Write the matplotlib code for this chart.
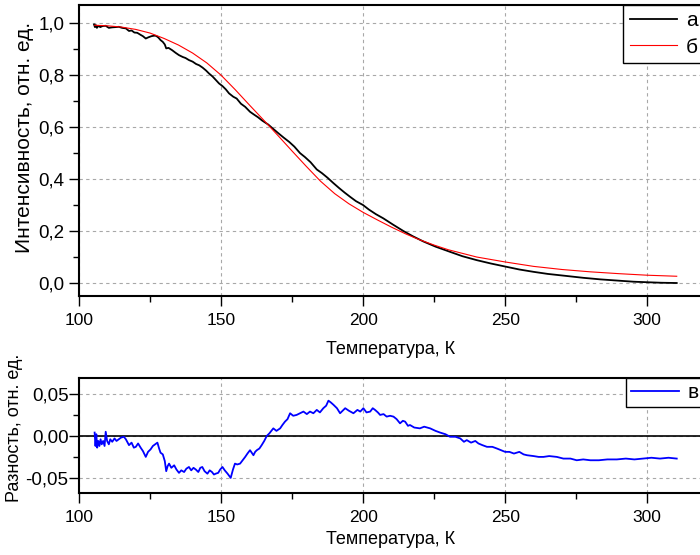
import matplotlib
matplotlib.use('Agg')
import matplotlib.pyplot as plt
from matplotlib.ticker import MultipleLocator, FuncFormatter

plt.rcParams['font.family'] = ['Liberation Sans', 'DejaVu Sans']

# experimental intensity (a)
t_exp = [105.3, 105.6, 105.9, 106.3, 106.8, 107.5, 108.3, 109.4, 110.5, 111.7,
         113.0, 114.0, 115.2, 116.5, 117.6, 118.5, 119.5, 120.5, 121.7, 122.5,
         123.5, 124.5, 125.5, 126.5, 127.2, 128.0, 128.7, 129.5, 130.2, 130.7,
         131.5, 132.8, 134.0, 135.2, 136.5, 137.5, 138.7, 140.0, 141.2, 142.3,
         143.5, 144.7, 145.8, 147.0, 148.2, 149.3, 150.5, 151.7, 152.8, 154.3,
         155.5, 157.0, 158.5, 160.2, 161.5, 163.0, 164.5, 166.6, 168.5, 170.0,
         172.0, 174.0, 175.8, 177.8, 179.5, 181.5, 183.7, 185.5, 187.5, 189.5,
         191.5, 193.5, 195.4, 197.5, 200.0, 202.0, 204.5, 207.1, 210.5, 214.2,
         217.5, 221.2, 225.5, 230.6, 235.0, 240.0, 245.0, 250.2, 255.0, 260.0,
         265.0, 271.7, 277.5, 283.5, 290.0, 295.2, 300.0, 305.0, 310.4]
i_exp = [0.995, 0.985, 0.993, 0.982, 0.990, 0.985, 0.989, 0.990, 0.982, 0.984,
         0.985, 0.986, 0.982, 0.980, 0.970, 0.972, 0.964, 0.963, 0.955, 0.950,
         0.941, 0.946, 0.950, 0.952, 0.951, 0.944, 0.935, 0.928, 0.918, 0.903,
         0.905, 0.896, 0.886, 0.877, 0.870, 0.866, 0.858, 0.852, 0.843, 0.838,
         0.829, 0.818, 0.806, 0.795, 0.781, 0.768, 0.758, 0.745, 0.730, 0.717,
         0.710, 0.690, 0.678, 0.659, 0.649, 0.638, 0.625, 0.610, 0.592, 0.578,
         0.560, 0.543, 0.525, 0.500, 0.485, 0.465, 0.437, 0.423, 0.405, 0.385,
         0.366, 0.348, 0.332, 0.315, 0.300, 0.283, 0.265, 0.249, 0.225, 0.200,
         0.180, 0.160, 0.140, 0.120, 0.103, 0.088, 0.075, 0.063, 0.052, 0.043,
         0.035, 0.027, 0.020, 0.014, 0.009, 0.005, 0.003, 0.001, 0.000]

# fit (б)
t_fit = [105.5, 110, 115, 120, 125, 130, 135, 140, 145, 150, 155, 160, 165, 170,
         175, 180, 185, 190, 195, 200, 205, 210, 215, 220, 225, 230, 240, 250,
         260, 270, 280, 290, 300, 310.4]
i_fit = [0.992, 0.990, 0.985, 0.976, 0.962, 0.941, 0.916, 0.885, 0.847, 0.800,
         0.744, 0.685, 0.627, 0.568, 0.508, 0.449, 0.392, 0.344, 0.305, 0.272,
         0.243, 0.215, 0.189, 0.166, 0.146, 0.128, 0.100, 0.081, 0.064, 0.052,
         0.043, 0.036, 0.030, 0.026]

# difference (в)
t_diff = [105.5, 105.8, 106.1, 106.4, 106.8, 107.2, 107.6, 108.0, 108.5, 109.0,
          109.4, 109.9, 110.5, 111.0, 111.7, 112.5, 113.2, 114.0, 114.8, 115.8,
          116.5, 117.6, 118.5, 119.3, 120.0, 120.8, 121.7, 122.5, 123.5, 124.3,
          125.2, 126.0, 126.8, 127.6, 128.2, 128.7, 129.5, 130.2, 130.7, 131.2,
          131.7, 132.5, 133.5, 134.3, 135.2, 136.0, 137.0, 137.8, 138.7, 139.5,
          140.3, 141.1, 142.0, 142.7, 143.4, 144.2, 145.2, 146.0, 146.8, 147.5,
          148.1, 149.0, 149.7, 150.5, 151.3, 152.3, 153.4, 154.2, 154.9, 155.7,
          156.7, 157.6, 158.5, 159.3, 160.2, 161.0, 161.4, 162.0, 162.6, 163.5,
          164.3, 165.2, 166.1, 167.0, 168.4, 169.5, 170.8, 171.6, 172.5, 173.4,
          174.3, 175.4, 176.6, 177.8, 179.0, 180.2, 181.3, 182.5, 183.7, 184.8,
          186.0, 187.0, 187.8, 188.6, 189.6, 190.8, 191.9, 192.8, 193.7, 195.0,
          196.6, 198.0, 199.0, 200.1, 201.2, 202.5, 203.4, 204.2, 205.2, 206.0,
          207.2, 208.3, 209.5, 210.7, 211.8, 213.0, 214.0, 214.8, 215.8, 216.5,
          218.0, 220.0, 221.5, 223.6, 225.5, 227.1, 229.0, 230.6, 232.5, 234.2,
          235.5, 236.5, 238.0, 239.5, 240.6, 242.0, 243.6, 245.5, 247.1, 248.5,
          250.0, 251.5, 253.1, 255.0, 256.5, 257.7, 260.0, 261.8, 263.5, 265.5,
          268.2, 270.5, 273.0, 275.2, 277.5, 280.0, 283.0, 286.0, 289.3, 292.5,
          295.5, 298.6, 301.5, 304.5, 307.5, 310.4]
d_diff = [0.004, -0.012, 0.002, -0.014, -0.006, -0.012, -0.004, -0.010, -0.006, -0.012,
          0.005, -0.006, -0.010, -0.004, -0.007, -0.003, -0.006, -0.004, -0.002, -0.001,
          -0.004, -0.011, -0.008, -0.014, -0.013, -0.009, -0.014, -0.018, -0.025, -0.019,
          -0.016, -0.012, -0.010, -0.008, -0.015, -0.020, -0.022, -0.030, -0.042, -0.036,
          -0.033, -0.038, -0.035, -0.040, -0.044, -0.041, -0.043, -0.039, -0.037, -0.041,
          -0.038, -0.040, -0.043, -0.038, -0.037, -0.042, -0.045, -0.041, -0.043, -0.046,
          -0.045, -0.044, -0.040, -0.037, -0.041, -0.045, -0.050, -0.040, -0.033, -0.034,
          -0.033, -0.029, -0.025, -0.021, -0.017, -0.021, -0.023, -0.019, -0.017, -0.015,
          -0.011, -0.006, 0.000, 0.003, 0.009, 0.006, 0.009, 0.013, 0.017, 0.020,
          0.027, 0.024, 0.025, 0.027, 0.029, 0.026, 0.029, 0.027, 0.031, 0.028,
          0.033, 0.036, 0.042, 0.040, 0.037, 0.033, 0.027, 0.030, 0.033, 0.030,
          0.027, 0.031, 0.029, 0.033, 0.028, 0.029, 0.033, 0.031, 0.028, 0.025,
          0.026, 0.023, 0.024, 0.023, 0.020, 0.015, 0.018, 0.017, 0.012, 0.013,
          0.010, 0.009, 0.011, 0.009, 0.006, 0.004, 0.002, -0.001, -0.001, -0.003,
          -0.007, -0.005, -0.008, -0.006, -0.009, -0.011, -0.013, -0.013, -0.015, -0.017,
          -0.019, -0.019, -0.021, -0.019, -0.022, -0.023, -0.024, -0.025, -0.025, -0.024,
          -0.025, -0.027, -0.027, -0.029, -0.028, -0.029, -0.029, -0.028, -0.028, -0.027,
          -0.028, -0.027, -0.026, -0.027, -0.026, -0.027]

W, H = 700, 555
fig = plt.figure(figsize=(W / 100, H / 100), dpi=100)
ax1 = fig.add_axes([79 / W, 1 - 296 / H, 625 / W, 291 / H])
ax2 = fig.add_axes([79 / W, 1 - 493 / H, 625 / W, 115 / H])

ax1.plot(t_exp, i_exp, color='black', lw=1.3, label='а')
ax1.plot(t_fit, i_fit, color='red', lw=0.8, label='б')
ax2.axhline(0, color='black', lw=1.2)
ax2.plot(t_diff, d_diff, color='blue', lw=1.3, label='в')

comma1 = FuncFormatter(lambda v, p: f'{v:.1f}'.replace('.', ','))
comma2 = FuncFormatter(lambda v, p: f'{v:.2f}'.replace('.', ','))

for ax in (ax1, ax2):
    ax.set_xlim(100, 320)
    ax.xaxis.set_major_locator(MultipleLocator(50))
    ax.xaxis.set_minor_locator(MultipleLocator(25))
    ax.grid(True, which='major', color='#a8a8a8', ls=(0, (3, 3)), lw=0.8)
    ax.tick_params(which='major', direction='out', length=7, width=1)
    ax.tick_params(which='minor', direction='out', length=4.5, width=1)
    ax.tick_params(axis='x', labelsize=12.5, pad=5)
    ax.tick_params(axis='y', labelsize=13.5)
    for s in ax.spines.values():
        s.set_linewidth(1.5)

ax1.tick_params(axis='y', pad=3.5)
ax2.tick_params(axis='y', pad=0.5)

leg1 = ax1.legend(loc='upper right', fontsize=15, fancybox=False,
                  edgecolor='black', framealpha=1, borderaxespad=0,
                  handlelength=2.3, handletextpad=0.4, labelspacing=0.35,
                  borderpad=0.3)
leg1.get_frame().set_linewidth(1)
leg2 = ax2.legend(loc='upper right', fontsize=15, fancybox=False,
                  edgecolor='black', framealpha=1, borderaxespad=0,
                  handlelength=2.3, handletextpad=0.4, borderpad=0.25)
leg2.get_frame().set_linewidth(1)

ax1.set_ylim(-0.05, 1.07)
ax1.yaxis.set_major_locator(MultipleLocator(0.2))
ax1.yaxis.set_minor_locator(MultipleLocator(0.1))
ax1.yaxis.set_major_formatter(comma1)

ax2.set_ylim(-0.068, 0.069)
ax2.yaxis.set_major_locator(MultipleLocator(0.05))
ax2.yaxis.set_minor_locator(MultipleLocator(0.025))
ax2.yaxis.set_major_formatter(comma2)

fig.text(391 / W, 1 - 350 / H, 'Температура, К', ha='center', va='center', fontsize=13)
fig.text(391 / W, 1 - 540 / H, 'Температура, К', ha='center', va='center', fontsize=13)
fig.text(25 / W, 1 - 137 / H, 'Интенсивность, отн. ед.', rotation=90,
         ha='center', va='center', fontsize=15)
fig.text(15 / W, 1 - 428 / H, 'Разность, отн. ед.', rotation=90,
         ha='center', va='center', fontsize=13)

fig.savefig('out.png', dpi=100)
